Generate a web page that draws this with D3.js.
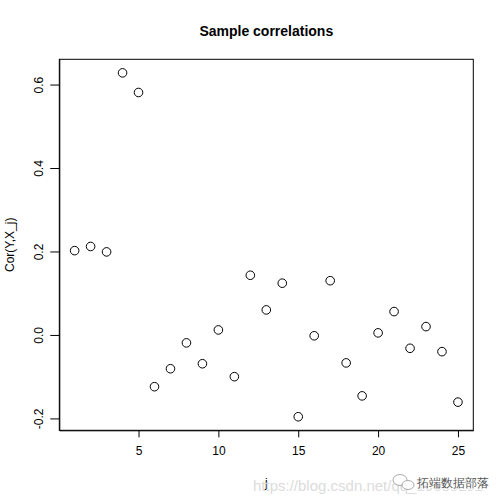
<!DOCTYPE html>
<html><head><meta charset="utf-8">
<script src="https://cdn.jsdelivr.net/npm/d3@7"></script>
<style>body{margin:0;background:#fff}svg{display:block}text{font-family:"Liberation Sans",Arial,sans-serif}</style>
</head><body><div id="chart"></div>
<script>
const idx = d3.range(1, 26);
const corr = [0.202, 0.212, 0.199, 0.628, 0.581, -0.124, -0.081, -0.019, -0.069, 0.012,
              -0.100, 0.143, 0.060, 0.124, -0.196, -0.002, 0.130, -0.067, -0.146, 0.005,
              0.056, -0.032, 0.020, -0.040, -0.161];
const xTicks = [5, 10, 15, 20, 25];
const yTicks = [-0.2, 0.0, 0.2, 0.4, 0.6];
const yTickLabels = ["-0.2", "0.0", "0.2", "0.4", "0.6"];

const W = 504, H = 504;
const mL = 59.3, mR = 473.3, mT = 59.3, mB = 430.3;
const svg = d3.select("#chart").append("svg").attr("width", W).attr("height", H);

const x = d3.scaleLinear().domain([0.04, 25.96]).range([mL, mR]);
const y = d3.scaleLinear().domain([-0.2285, 0.6605]).range([mB, mT]);

// box
svg.append("rect").attr("x", mL).attr("y", mT).attr("width", mR - mL).attr("height", mB - mT)
  .attr("fill", "none").attr("stroke", "#000").attr("stroke-width", 1);

// x axis
const xa = svg.append("g").attr("transform", `translate(0,${mB})`)
  .call(d3.axisBottom(x).tickValues(xTicks).tickSizeInner(7).tickSizeOuter(0).tickPadding(9).tickFormat(d3.format("d")));
xa.selectAll("text").attr("font-size", 12).attr("fill", "#000");
xa.selectAll("line,path").attr("stroke", "#000");

// y axis
const ya = svg.append("g").attr("transform", `translate(${mL},0)`)
  .call(d3.axisLeft(y).tickValues(yTicks).tickSizeInner(9).tickSizeOuter(0).tickFormat((d, i) => yTickLabels[i]));
ya.selectAll("line,path").attr("stroke", "#000");
ya.selectAll(".tick").each(function(d) {
  const g = d3.select(this);
  g.select("text").attr("x", null).attr("dy", "0.35em").attr("y", 0)
    .attr("text-anchor", "middle").attr("font-size", 12).attr("fill", "#000")
    .attr("transform", "translate(-21,0) rotate(-90)");
});

// points
svg.append("g").selectAll("circle").data(idx).join("circle")
  .attr("cx", d => x(d)).attr("cy", (d, i) => y(corr[i])).attr("r", 4.3)
  .attr("fill", "none").attr("stroke", "#000").attr("stroke-width", 1);

// titles
svg.append("text").attr("x", (mL + mR) / 2).attr("y", 36).attr("text-anchor", "middle")
  .attr("font-size", 14).attr("font-weight", "bold").text("Sample correlations");
svg.append("text").attr("x", (mL + mR) / 2).attr("y", 487).attr("text-anchor", "middle")
  .attr("font-size", 12).text("j");
svg.append("text").attr("transform", `translate(14,${(mT + mB) / 2}) rotate(-90)`)
  .attr("text-anchor", "middle").attr("font-size", 12).text("Cor(Y,X_j)");

// watermark
svg.append("text").attr("x", 253).attr("y", 491).attr("font-size", 15).attr("fill", "#dcdcdc")
  .text("https://blog.csdn.net/qq_19600291");
const wm = svg.append("g").attr("opacity", 0.8);
wm.append("ellipse").attr("cx", 400).attr("cy", 480).attr("rx", 7).attr("ry", 5.5).attr("fill", "#fff").attr("stroke", "#999");
wm.append("ellipse").attr("cx", 408).attr("cy", 485).attr("rx", 6).attr("ry", 4.5).attr("fill", "#fff").attr("stroke", "#999");
svg.append("text").attr("x", 417).attr("y", 487).attr("font-size", 12)
  .attr("font-family", "Noto Sans CJK SC").attr("fill", "#555")
  .attr("stroke", "#fff").attr("stroke-width", 2).attr("paint-order", "stroke")
  .text("拓端数据部落");
</script></body></html>
